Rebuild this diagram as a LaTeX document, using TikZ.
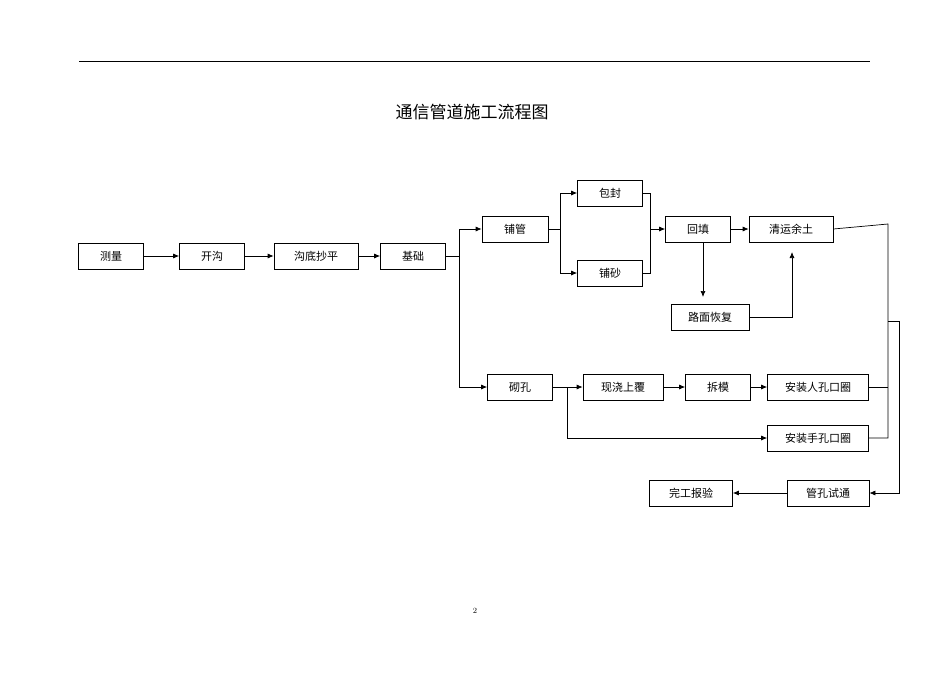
\documentclass[tikz,border=0pt]{standalone}
\usepackage{fontspec}
\newfontfamily\cjk{Noto Sans CJK SC}
\usetikzlibrary{arrows.meta}
\begin{document}
\begin{tikzpicture}[x=1pt,y=-1pt,
 box/.style={draw,line width=0.7pt,minimum height=26pt,inner sep=0pt,font=\cjk\fontsize{11}{11}\selectfont},
 ln/.style={line width=0.7pt},
 ar/.style={ln,-{Latex[length=6pt,width=5pt]}}]
\useasboundingbox (0,0) rectangle (950,672);
\draw[line width=0.6pt] (79,61) -- (870,61);
\node[font=\cjk\fontsize{17}{17}\selectfont] (title) at (472,112) {通信管道施工流程图};
\node[font=\fontsize{8}{8}\selectfont] (pg) at (475,611) {2};
\node[box,minimum width=65pt] (a) at (111,256) {测量};
\node[box,minimum width=65pt] (b) at (212,256) {开沟};
\node[box,minimum width=84pt] (c) at (316,256) {沟底抄平};
\node[box,minimum width=65pt] (d) at (413,256) {基础};
\node[box,minimum width=66pt] (e) at (515,229) {铺管};
\node[box,minimum width=65pt] (f) at (610,193) {包封};
\node[box,minimum width=65pt] (g) at (610,273) {铺砂};
\node[box,minimum width=65pt] (h) at (698,229) {回填};
\node[box,minimum width=84pt] (i) at (791,229) {清运余土};
\node[box,minimum width=78pt] (j) at (710,317) {路面恢复};
\node[box,minimum width=65pt] (k) at (520,387) {砌孔};
\node[box,minimum width=80pt] (l) at (623,387) {现浇上覆};
\node[box,minimum width=65pt] (m) at (718,387) {拆模};
\node[box,minimum width=101pt] (n) at (818,387) {安装人孔口圈};
\node[box,minimum width=101pt] (o) at (818,438) {安装手孔口圈};
\node[box,minimum width=82pt] (p) at (828,493) {管孔试通};
\node[box,minimum width=83pt] (q) at (691,493) {完工报验};
\draw[ar] (a) -- (b);
\draw[ar] (b) -- (c);
\draw[ar] (c) -- (d);
\draw[ln] (d.east) -- (459,256);
\draw[ar] (459,256) |- (e.west);
\draw[ar] (459,256) |- (k.west);
\draw[ln] (e.east) -- (560,229);
\draw[ar] (560,229) |- (f.west);
\draw[ar] (560,229) |- (g.west);
\draw[ln] (f.east) -- (650,193) -- (650,273) -- (g.east);
\draw[ar] (650,229) -- (h.west);
\draw[ar] (h) -- (i);
\draw[ar] (703,242) -- (703,297);
\draw[ar] (j.east) -| (792,252);
\draw[ar] (k) -- (l);
\draw[ar] (567,387) |- (o.west);
\draw[ar] (l) -- (m);
\draw[ar] (m) -- (n);
\draw[ln] (i.east) -- (888,224) -- (888,438) -- (o.east);
\draw[ln] (n.east) -- (888,387);
\draw[ar] (888,321) -- (899,321) |- (p.east);
\draw[ar] (p) -- (q);
\end{tikzpicture}
\end{document}
